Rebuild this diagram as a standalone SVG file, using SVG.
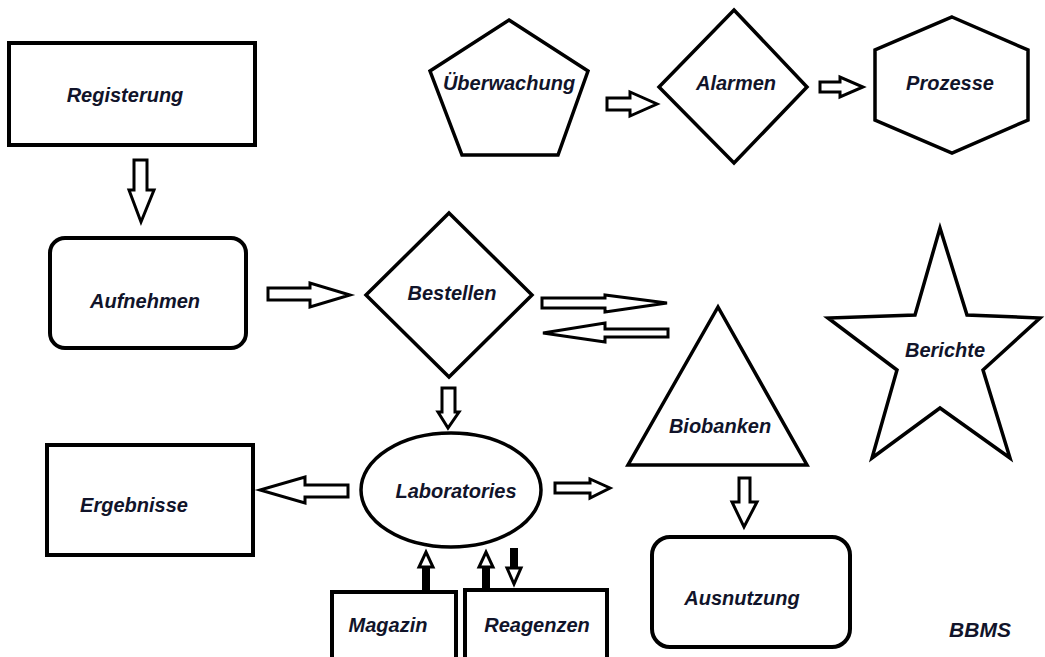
<svg xmlns="http://www.w3.org/2000/svg" width="1045" height="657" viewBox="0 0 1045 657">
<style>
.s{fill:#fff;stroke:#000;stroke-width:3.5;stroke-linejoin:miter}
.r{fill:#fff;stroke:#000;stroke-width:4}
.a{fill:#fff;stroke:#000;stroke-width:3;stroke-linejoin:miter}
.t{font-family:"Liberation Sans",Arial,sans-serif;font-size:20px;font-weight:bold;font-style:italic;fill:#11142a;text-anchor:middle}
</style>
<rect width="1045" height="657" fill="#fff"/>
<g id="connectors">
<polygon class="a" points="134,160 147,160 147,190 154,190 141,222 129,190 134,190"/>
<polygon class="a" points="268,288 310,288 310,283 350,295 310,307 310,300 268,300"/>
<polygon class="a" points="607,98 630,98 630,92 657,104 630,116 630,110 607,110"/>
<polygon class="a" points="820,82 840,82 840,77 863,87 840,97 840,92 820,92"/>
<polygon class="a" points="542,298 605,298 605,295 667,303 605,312 605,308 542,308"/>
<polygon class="a" points="668,329 605,329 605,323 543,333 605,342 605,337 668,337"/>
<polygon class="a" points="442,388 455,388 455,412 459,412 448,428 438,412 442,412"/>
<polygon class="a" points="348,485 305,485 305,477 260,490 305,503 305,497 348,497"/>
<polygon class="a" points="555,483 590,483 590,479 610,488 590,498 590,493 555,493"/>
<polygon class="a" points="739,478 750,478 750,502 757,502 744,527 732,502 739,502"/>
<rect x="422" y="566" width="8" height="26" fill="#000"/>
<polygon class="a" points="419,567 433,567 426,552"/>
<rect x="482" y="566" width="8" height="24" fill="#000"/>
<polygon class="a" points="479,567 493,567 486,552"/>
<rect x="510" y="548" width="8" height="20" fill="#000"/>
<polygon class="a" points="507,568 521,568 514,584"/>
</g>
<g id="registerung"><rect class="r" x="9" y="43" width="246" height="102"/><text class="t" x="125" y="102">Registerung</text></g>
<g id="aufnehmen"><rect class="r" x="50" y="238" width="196" height="110" rx="15"/><text class="t" x="145" y="308">Aufnehmen</text></g>
<g id="ueberwachung"><polygon class="s" points="509,20 588,71 558,155 462,155 430,71"/><text class="t" x="509" y="90">Überwachung</text></g>
<g id="alarmen"><polygon class="s" points="734,10 807,87 734,163 659,87"/><text class="t" x="736" y="90">Alarmen</text></g>
<g id="prozesse"><polygon class="s" points="952,17 1028,50 1028,120 952,153 875,120 875,50"/><text class="t" x="950" y="90">Prozesse</text></g>
<g id="bestellen"><polygon class="s" points="449,213 532,295 449,377 366,295"/><text class="t" x="452" y="300">Bestellen</text></g>
<g id="biobanken"><polygon class="s" points="718,307 807,465 628,465"/><text class="t" x="720" y="433">Biobanken</text></g>
<g id="berichte"><polygon class="s" points="940,228 967,315 1040,318 983,370 1010,458 940,408 872,458 897,370 828,318 915,315"/><text class="t" x="945" y="357">Berichte</text></g>
<g id="laboratories"><ellipse class="s" cx="451" cy="490" rx="90" ry="57"/><text class="t" x="456" y="498">Laboratories</text></g>
<g id="ergebnisse"><rect class="r" x="47" y="445" width="206" height="110"/><text class="t" x="134" y="512">Ergebnisse</text></g>
<g id="ausnutzung"><rect class="r" x="652" y="537" width="198" height="110" rx="18"/><text class="t" x="742" y="605">Ausnutzung</text></g>
<g id="magazin"><rect class="r" x="332" y="592" width="124" height="70"/><text class="t" x="388" y="632">Magazin</text></g>
<g id="reagenzen"><rect class="r" x="465" y="590" width="142" height="72"/><text class="t" x="537" y="632">Reagenzen</text></g>
<g id="bbms"><text class="t" x="980" y="637" style="font-size:21px">BBMS</text></g>
</svg>
